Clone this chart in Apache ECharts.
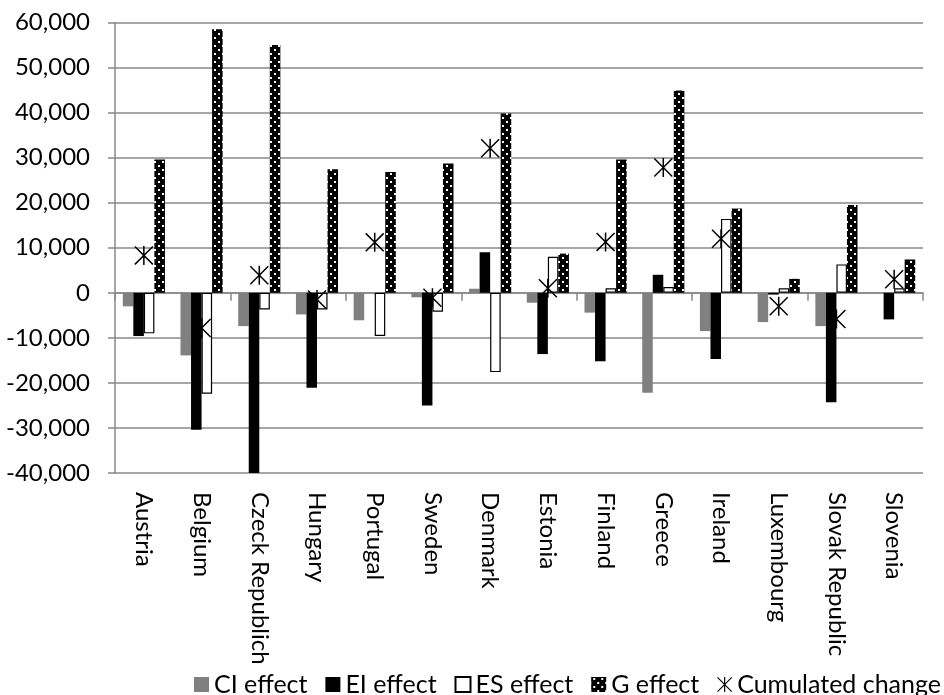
<!DOCTYPE html>
<html>
<head>
<meta charset="utf-8">
<script src="https://cdn.jsdelivr.net/npm/echarts@6/dist/echarts.min.js"></script>
<style>
  html, body { margin: 0; padding: 0; background: #fff; }
  #chart { width: 944px; height: 695px; }
</style>
</head>
<body>
<div id="chart"></div>
<script>
// Decomposition of the change by country
const categories = ['Austria', 'Belgium', 'Czeck Republich', 'Hungary', 'Portugal', 'Sweden', 'Denmark',
  'Estonia', 'Finland', 'Greece', 'Ireland', 'Luxembourg', 'Slovak Republic', 'Slovenia'];
const ciEffect = [-3000, -13900, -7400, -4800, -6100, -1000, 900, -2200, -4400, -22200, -8500, -6500, -7400, 0];
const eiEffect = [-9600, -30400, -40300, -21100, 0, -25000, 9000, -13600, -15200, 4000, -14700, -400, -24300, -5900];
const esEffect = [-9000, -22400, -3700, -3700, -9600, -4200, -17600, 8000, 1000, 1300, 16400, 1000, 6300, 1000];
const gEffect = [29600, 58500, 55000, 27400, 26800, 28700, 39800, 8700, 29600, 44900, 18700, 3100, 19500, 7400];
const cumulatedChange = [8300, -7800, 3900, -1500, 11200, -1100, 32100, 1000, 11300, 27800, 12000, -3000, -5800, 3000];
const seriesNames = ['CI effect', 'EI effect', 'ES effect', 'G effect', 'Cumulated change'];
const yTicks = { min: -40000, max: 60000, step: 10000 };

const FONT = 'Lato';
const GRID_COLOR = '#888888';
const LEGEND_FONT_SIZE = 25;
const LEGEND_LEFT = 194;
const LEGEND_SPAN = 746;
const LEGEND_ICON = 15;

// dotted fill for the G effect bars: black with staggered white dots
function dotPattern() {
  const c = document.createElement('canvas');
  c.width = 8; c.height = 8;
  const g = c.getContext('2d');
  g.fillStyle = '#000';
  g.fillRect(0, 0, 8, 8);
  g.fillStyle = '#fff';
  g.fillRect(2, 1, 2, 2);
  g.fillRect(6, 5, 2, 2);
  return c;
}

// spread the legend entries evenly over the strip below the labels
function legendGap() {
  const ctx = document.createElement('canvas').getContext('2d');
  ctx.font = LEGEND_FONT_SIZE + 'px ' + FONT;
  const textW = seriesNames.reduce((s, n) => s + ctx.measureText(n).width, 0);
  const gap = (LEGEND_SPAN - textW - seriesNames.length * (LEGEND_ICON + 5)) / (seriesNames.length - 1);
  return Math.max(8, gap);
}

// asterisk marker: an X crossed by a vertical stroke
const starPath = 'path://M9.2,0H10.8V20H9.2Z M0,1.1L1.1,0L20,18.9L18.9,20Z M18.9,0L20,1.1L1.1,20L0,18.9Z';

const chart = echarts.init(document.getElementById('chart'), null, { renderer: 'canvas' });

const fmt = v => v.toLocaleString('en-US');

chart.setOption({
  animation: false,
  backgroundColor: '#fff',
  textStyle: { fontFamily: FONT, color: '#000' },
  grid: { left: 115, right: 21, top: 22.5, bottom: 222, containLabel: false },
  legend: {
    left: LEGEND_LEFT,
    top: 672,
    padding: 0,
    itemWidth: LEGEND_ICON,
    itemHeight: LEGEND_ICON,
    itemGap: legendGap(),
    textStyle: { fontFamily: FONT, fontSize: LEGEND_FONT_SIZE, color: '#000' },
    data: seriesNames.map((n, i) => i < 4 ? { name: n, icon: 'rect' } : { name: n })
  },
  xAxis: [
    {
      type: 'category',
      data: categories,
      axisLine: { onZero: true, lineStyle: { color: GRID_COLOR, width: 1.5 } },
      axisTick: { show: true, length: 8, lineStyle: { color: GRID_COLOR, width: 1.5 } },
      axisLabel: { show: false },
      splitLine: { show: false }
    },
    {
      type: 'category',
      data: categories,
      position: 'bottom',
      axisLine: { show: false, onZero: false },
      axisTick: { show: false },
      axisLabel: {
        rotate: -90,
        margin: 19,
        fontFamily: FONT,
        fontSize: 24,
        color: '#000',
        interval: 0
      }
    }
  ],
  yAxis: {
    type: 'value',
    min: yTicks.min,
    max: yTicks.max,
    interval: yTicks.step,
    axisLine: { show: true, lineStyle: { color: GRID_COLOR, width: 1.5 } },
    axisTick: { show: true, length: 7, lineStyle: { color: GRID_COLOR, width: 1.5 } },
    splitLine: { lineStyle: { color: GRID_COLOR, width: 1.5 } },
    axisLabel: { fontFamily: FONT, fontSize: 24, color: '#000', margin: 25, formatter: fmt }
  },
  series: [
    {
      name: seriesNames[0], type: 'bar', data: ciEffect, xAxisIndex: 0,
      barGap: '0%', barCategoryGap: '27%', clip: true,
      itemStyle: { color: '#808080' }
    },
    {
      name: seriesNames[1], type: 'bar', data: eiEffect, xAxisIndex: 0,
      barGap: '0%', barCategoryGap: '27%', clip: true,
      itemStyle: { color: '#000000' }
    },
    {
      name: seriesNames[2], type: 'bar', data: esEffect, xAxisIndex: 0,
      barGap: '0%', barCategoryGap: '27%', clip: true,
      itemStyle: { color: '#ffffff', borderColor: '#000', borderWidth: 1.2 }
    },
    {
      name: seriesNames[3], type: 'bar', data: gEffect, xAxisIndex: 0,
      barGap: '0%', barCategoryGap: '27%', clip: true,
      itemStyle: { color: { image: dotPattern(), repeat: 'repeat' } }
    },
    {
      name: seriesNames[4], type: 'scatter', data: cumulatedChange, xAxisIndex: 0,
      symbol: starPath, symbolSize: 19, z: 5,
      itemStyle: { color: '#000', opacity: 1 }
    }
  ]
});
</script>
</body>
</html>
